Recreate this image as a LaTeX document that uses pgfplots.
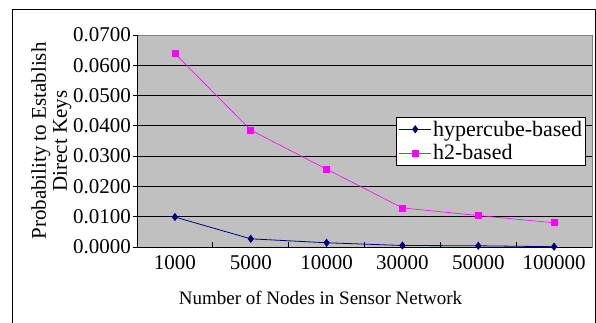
\documentclass[border=0pt]{standalone}
\usepackage{pgfplots}
\pgfplotsset{compat=1.18}
\usepackage{fontspec}
\setmainfont{Liberation Serif}
\definecolor{plotgray}{RGB}{192,192,192}
\definecolor{navyc}{RGB}{0,0,128}
\definecolor{magc}{RGB}{255,0,255}
\begin{document}
\begin{tikzpicture}[x=1pt,y=1pt]
\useasboundingbox (-137,-75) rectangle (459,247);
\begin{axis}[
  at={(0,0)}, anchor=south west,
  scale only axis, width=455pt, height=212pt,
  xmin=-0.5, xmax=5.5, ymin=0, ymax=0.07,
  axis background/.style={fill=plotgray},
  axis line style={draw=gray},
  xtick={0,1,2,3,4,5},
  xticklabels={1000,5000,10000,30000,50000,100000},
  major x tick style={draw=none},
  minor xtick={0.5,1.5,2.5,3.5,4.5},
  minor x tick style={black, line width=0.8pt},
  minor tick length=5pt,
  ytick={0,0.01,0.02,0.03,0.04,0.05,0.06,0.07},
  ymajorgrids, grid style={black, line width=0.8pt},
  major y tick style={black, line width=0.8pt, xshift=-3.5pt},
  tick align=inside, major tick length=3.5pt,
  xtick pos=bottom, ytick pos=left,
  yticklabel style={/pgf/number format/.cd, fixed, fixed zerofill, precision=4, /tikz/.cd},
  /pgf/number format/assume math mode=true,
  scaled y ticks=false,
  tick label style={font=\fontsize{21}{23}\selectfont},
  xticklabel style={yshift=-5pt},
  yticklabel style={xshift=-2.5pt},
  xlabel={Number of Nodes in Sensor Network},
  ylabel={Probability to Establish\\Direct Keys},
  ylabel style={align=center, font=\fontsize{21}{21}\selectfont, yshift=-5pt},
  xlabel style={font=\fontsize{19}{21}\selectfont, yshift=-15pt, xshift=-44pt},
  legend style={at={(0.987,0.613)}, anchor=north east, draw=black, line width=0.8pt, fill=white,
    nodes={font=\fontsize{22}{24}\selectfont, inner sep=1.5pt}, inner sep=2pt, row sep=4pt},
  legend image code/.code={
    \draw[mark repeat=2,mark phase=2,#1] plot coordinates {(0pt,0pt) (16pt,0pt) (32pt,0pt)};},
  legend cell align=left,
]
\addplot[navyc, line width=0.8pt, mark=diamond*, mark size=3.5pt, mark options={fill=navyc}] coordinates {
(0,0.0099) (1,0.0027) (2,0.0014) (3,0.0005) (4,0.0004) (5,0.0001)};
\addlegendentry{hypercube-based}
\addplot[magc, line width=0.6pt, mark=square*, mark size=3pt, mark options={fill=magc}] coordinates {
(0,0.0639) (1,0.0386) (2,0.0257) (3,0.0129) (4,0.0104) (5,0.0080)};
\addlegendentry{h2-based}
\draw[black, line width=0.8pt] (rel axis cs:0,0) -- (rel axis cs:0,1);
\draw[black, line width=0.8pt] (rel axis cs:0,0) -- (rel axis cs:1,0);
\end{axis}
\draw[black, line width=0.8pt] (-125,-80) -- (-125,238) -- (458,238) -- (458,-80);
\end{tikzpicture}
\end{document}
